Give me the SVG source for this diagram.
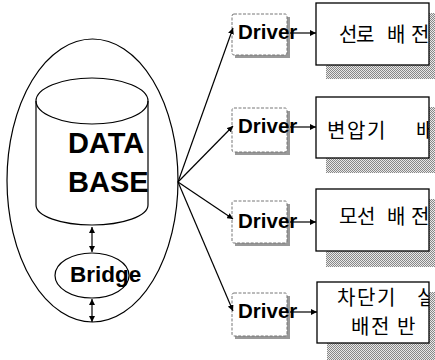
<svg xmlns="http://www.w3.org/2000/svg" width="435" height="360" viewBox="0 0 435 360">
<style>
.ln{fill:none;stroke:#000;stroke-width:1.2}
.bx{fill:#fff;stroke:#000;stroke-width:1.3}
.dbx{fill:#fff;stroke:#777;stroke-width:1;stroke-dasharray:3 1.5}
.dsh{fill:#999}
.sh{fill:url(#dots)}
.lat{font-family:"Liberation Sans",Arial,sans-serif;font-weight:bold;fill:#000}
.kr{font-family:"Noto Sans CJK KR","Noto Sans",sans-serif;font-size:20px;fill:#000}
</style>
<defs>
<pattern id="dots" width="2" height="2" patternUnits="userSpaceOnUse">
<rect width="2" height="2" fill="#e8e8e8"/>
<rect width="1" height="1" fill="#888"/>
<rect x="1" y="1" width="1" height="1" fill="#888"/>
</pattern>
<marker id="ah" viewBox="0 0 10 10" refX="10" refY="5" markerWidth="6" markerHeight="6" markerUnits="userSpaceOnUse" orient="auto-start-reverse">
<path d="M0,0 L10,5 L0,10 z" fill="#000"/>
</marker>
<clipPath id="c1"><rect x="316" y="3" width="113" height="62"/></clipPath>
<clipPath id="c2"><rect x="316" y="97" width="113" height="61"/></clipPath>
<clipPath id="c3"><rect x="316" y="189" width="113" height="62"/></clipPath>
<clipPath id="c4"><rect x="317" y="282" width="112" height="61"/></clipPath>
</defs>

<g id="container">
<ellipse class="ln" cx="92.5" cy="180.5" rx="85.5" ry="141.5"/>
</g>

<g id="database">
<path class="ln" d="M36,101 L36,205 A56,20 0 0 0 148,205 L148,101"/>
<ellipse class="ln" cx="92" cy="101" rx="56" ry="23"/>
<text class="lat" x="68" y="153" font-size="29">DATA</text>
<text class="lat" x="68" y="192" font-size="29">BASE</text>
</g>

<g id="bridge">
<ellipse class="ln" cx="92" cy="275.5" rx="37" ry="22.5"/>
<text class="lat" x="70" y="282" font-size="22.5">Bridge</text>
</g>

<g id="driver1">
<rect class="dsh" x="235" y="17" width="55" height="41"/>
<rect class="dbx" x="232" y="14" width="55" height="41" rx="2"/>
<text class="lat" x="238" y="39" font-size="20.5">Driver</text>
</g>
<g id="driver2">
<rect class="dsh" x="235" y="111" width="55" height="44"/>
<rect class="dbx" x="232" y="108" width="55" height="44" rx="2"/>
<text class="lat" x="238" y="133" font-size="20.5">Driver</text>
</g>
<g id="driver3">
<rect class="dsh" x="235" y="204" width="55" height="42"/>
<rect class="dbx" x="232" y="201" width="55" height="42" rx="2"/>
<text class="lat" x="238" y="228" font-size="20.5">Driver</text>
</g>
<g id="driver4">
<rect class="dsh" x="235" y="296" width="55" height="43"/>
<rect class="dbx" x="232" y="293" width="55" height="43" rx="2"/>
<text class="lat" x="238" y="318" font-size="20.5">Driver</text>
</g>

<g id="panel1">
<rect class="sh" x="326" y="13" width="113" height="66"/>
<rect class="bx" x="316" y="3" width="113" height="62"/>
<text class="kr" x="339 356 387 411" y="42" clip-path="url(#c1)">선로배전</text>
</g>
<g id="panel2">
<rect class="sh" x="326" y="107" width="113" height="66"/>
<rect class="bx" x="316" y="97" width="113" height="61"/>
<text class="kr" x="327 347 367 416" y="138" clip-path="url(#c2)">변압기배</text>
</g>
<g id="panel3">
<rect class="sh" x="326" y="199" width="113" height="68"/>
<rect class="bx" x="316" y="189" width="113" height="62"/>
<text class="kr" x="339 357 387 411" y="224" clip-path="url(#c3)">모선배전</text>
</g>
<g id="panel4">
<rect class="sh" x="327" y="292" width="113" height="70"/>
<rect class="bx" x="317" y="282" width="112" height="61"/>
<text class="kr" x="337 357 377 417" y="305" font-size="19" clip-path="url(#c4)">차단기실</text>
<text class="kr" x="351 371 397" y="334" font-size="19" clip-path="url(#c4)">배전반</text>
</g>

<g id="connectors">
<line class="ln" x1="92" y1="227" x2="92" y2="252" marker-start="url(#ah)" marker-end="url(#ah)"/>
<line class="ln" x1="92" y1="299" x2="92" y2="322" marker-start="url(#ah)" marker-end="url(#ah)"/>
<line class="ln" x1="178" y1="182" x2="233" y2="28" marker-end="url(#ah)"/>
<line class="ln" x1="178" y1="182" x2="233" y2="126" marker-end="url(#ah)"/>
<line class="ln" x1="178" y1="182" x2="233" y2="219" marker-end="url(#ah)"/>
<line class="ln" x1="178" y1="182" x2="233" y2="311" marker-end="url(#ah)"/>
<line class="ln" x1="290" y1="33" x2="316" y2="33" marker-end="url(#ah)"/>
<line class="ln" x1="290" y1="127" x2="316" y2="127" marker-end="url(#ah)"/>
<line class="ln" x1="290" y1="222" x2="316" y2="222" marker-end="url(#ah)"/>
<line class="ln" x1="290" y1="312" x2="317" y2="312" marker-end="url(#ah)"/>
</g>
</svg>
